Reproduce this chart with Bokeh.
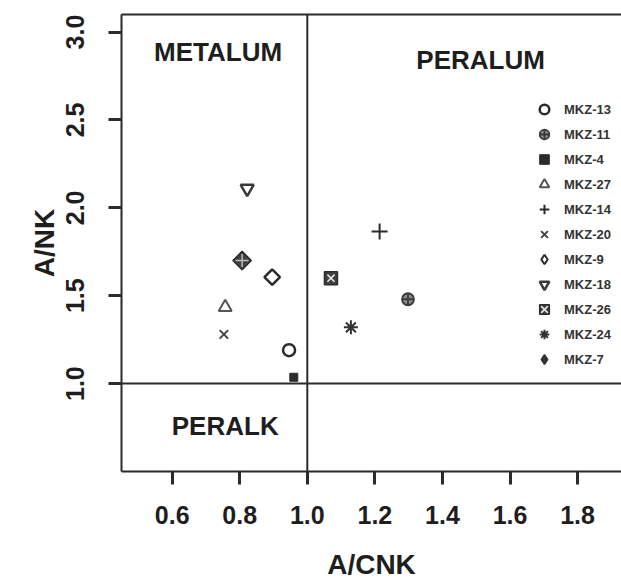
import math
from bokeh.plotting import figure
from bokeh.models import ColumnDataSource, Span, Legend, LegendItem, FixedTicker, LinearAxis, Range1d, Title
from bokeh.core.properties import value
from bokeh.embed import file_html
from bokeh.resources import INLINE

# ---- data ----
samples = ["MKZ-13", "MKZ-11", "MKZ-4", "MKZ-27", "MKZ-14", "MKZ-20",
           "MKZ-9", "MKZ-18", "MKZ-26", "MKZ-24", "MKZ-7"]
acnk = [0.946, 1.298, 0.960, 0.757, 1.214, 0.753, 0.896, 0.822, 1.070, 1.129, 0.807]
ank = [1.19, 1.48, 1.036, 1.435, 1.866, 1.28, 1.606, 2.11, 1.60, 1.32, 1.70]

x_ticks = [0.6, 0.8, 1.0, 1.2, 1.4, 1.6, 1.8]
x_tick_labels = ["0.6", "0.8", "1.0", "1.2", "1.4", "1.6", "1.8"]
y_ticks = [1.0, 1.5, 2.0, 2.5, 3.0]
y_tick_labels = ["1.0", "1.5", "2.0", "2.5", "3.0"]

acnk_boundary = 1.0
ank_boundary = 1.0

region_names = ["METALUM", "PERALUM", "PERALK"]
region_x = [0.736, 1.513, 0.757]
region_y = [2.886, 2.84, 0.76]

x_label = "A/CNK"
y_label = "A/NK"

# ---- styles ----
DARK = "#2b2b2b"
FONT = "Liberation Sans"
styles = {
    "MKZ-13": [dict(marker="circle", size=12, fill_color=None, line_color=DARK, line_width=2.5)],
    "MKZ-11": [dict(marker="circle_cross", size=12, fill_color="#8a8a8a", line_color="#3a3a3a", line_width=1.8)],
    "MKZ-4": [dict(marker="square", size=8, fill_color=DARK, line_color=DARK, line_width=1)],
    "MKZ-27": [dict(marker="triangle", size=13, fill_color=None, line_color="#555555", line_width=2)],
    "MKZ-14": [dict(marker="cross", size=16, fill_color=None, line_color=DARK, line_width=2)],
    "MKZ-20": [dict(marker="x", size=12, fill_color=None, line_color="#444444", line_width=2)],
    "MKZ-9": [dict(marker="square", size=11, angle=math.pi / 4, fill_color=None, line_color=DARK, line_width=2.5)],
    "MKZ-18": [dict(marker="inverted_triangle", size=13, fill_color=None, line_color="#3a3a3a", line_width=2.5)],
    "MKZ-26": [dict(marker="square", size=13, fill_color="#404040", line_color=DARK, line_width=1.5),
               dict(marker="x", size=10, fill_color=None, line_color="#e8e8e8", line_width=1.5)],
    "MKZ-24": [dict(marker="asterisk", size=14, fill_color=None, line_color="#333333", line_width=2)],
    "MKZ-7": [dict(marker="square", size=13, angle=math.pi / 4, fill_color="#404040", line_color=DARK, line_width=1.5),
              dict(marker="cross", size=13, fill_color=None, line_color="#bdbdbd", line_width=1.5)],
}
# legend-only glyphs for the rotated symbols (legend glyphs ignore angle)
legend_styles = {
    "MKZ-9": [dict(marker="diamond", size=14, fill_color=None, line_color=DARK, line_width=2)],
    "MKZ-7": [dict(marker="diamond", size=16, fill_color="#333333", line_color="#333333", line_width=1.5)],
}

p = figure(width=621, height=584,
           x_range=Range1d(0.45, 1.93), y_range=Range1d(0.5, 3.1),
           output_backend="svg", toolbar_location=None,
           min_border_left=121, min_border_right=0, min_border_top=14, min_border_bottom=113)
p.outline_line_color = None
p.xgrid.visible = False
p.ygrid.visible = False
p.background_fill_color = "white"

for ax in (p.xaxis[0], p.yaxis[0]):
    ax.axis_line_color = DARK
    ax.axis_line_width = 2
    ax.major_tick_line_color = DARK
    ax.major_tick_line_width = 3
    ax.major_tick_in = 0
    ax.major_tick_out = 13
    ax.minor_tick_line_color = None
    ax.major_label_text_font = FONT
    ax.major_label_text_font_style = "bold"
    ax.major_label_text_font_size = "25px"
    ax.major_label_text_color = "#1e1e1e"
    ax.axis_label_text_font = FONT
    ax.axis_label_text_font_style = "bold"
    ax.axis_label_text_font_size = "28px"
    ax.axis_label_text_color = "#1e1e1e"

p.xaxis[0].ticker = FixedTicker(ticks=x_ticks)
p.xaxis[0].major_label_overrides = dict(zip(x_ticks, x_tick_labels))
p.xaxis[0].major_label_standoff = 21
p.xaxis[0].axis_label = x_label
p.xaxis[0].axis_label_standoff = 22

p.yaxis[0].ticker = FixedTicker(ticks=y_ticks)
p.yaxis[0].major_label_overrides = dict(zip(y_ticks, y_tick_labels))
p.yaxis[0].major_label_orientation = "vertical"
p.yaxis[0].major_label_standoff = 24

p.add_layout(Title(text=y_label, align="center", offset=30, standoff=8,
                   text_font=FONT, text_font_style="bold", text_font_size="28px",
                   text_color="#1e1e1e"), "left")

top = LinearAxis(ticker=FixedTicker(ticks=[]), axis_line_color=DARK, axis_line_width=2,
                 major_tick_line_color=None, minor_tick_line_color=None,
                 major_label_text_font_size="0px")
p.add_layout(top, "above")

p.add_layout(Span(location=acnk_boundary, dimension="height", line_color=DARK, line_width=2))
p.add_layout(Span(location=ank_boundary, dimension="width", line_color=DARK, line_width=2))

reg_src = ColumnDataSource(dict(x=region_x, y=region_y, t=region_names))
p.text(x="x", y="y", text="t", source=reg_src, text_font=value(FONT), text_font_style="bold",
       text_font_size="26px", text_align="center", text_baseline="middle", text_color="#1e1e1e")

items = []
for i, s in enumerate(samples):
    src = ColumnDataSource(dict(x=[acnk[i]], y=[ank[i]]))
    rs = []
    for st in styles[s]:
        rs.append(p.scatter(x="x", y="y", source=src, **st))
    if s in legend_styles:
        blank = ColumnDataSource(dict(x=[float("nan")], y=[float("nan")]))
        rs = [p.scatter(x="x", y="y", source=blank, **st) for st in legend_styles[s]]
    items.append(LegendItem(label=s, renderers=rs))

legend = Legend(items=items, location=(411, 100), padding=0, margin=0, spacing=1,
                glyph_width=24, glyph_height=24, label_height=24, label_standoff=8,
                border_line_color=None, background_fill_alpha=0,
                label_text_font=FONT, label_text_font_style="bold",
                label_text_font_size="13px", label_text_color="#333333")
p.add_layout(legend)

open("out.html", "w").write(file_html(p, INLINE))
